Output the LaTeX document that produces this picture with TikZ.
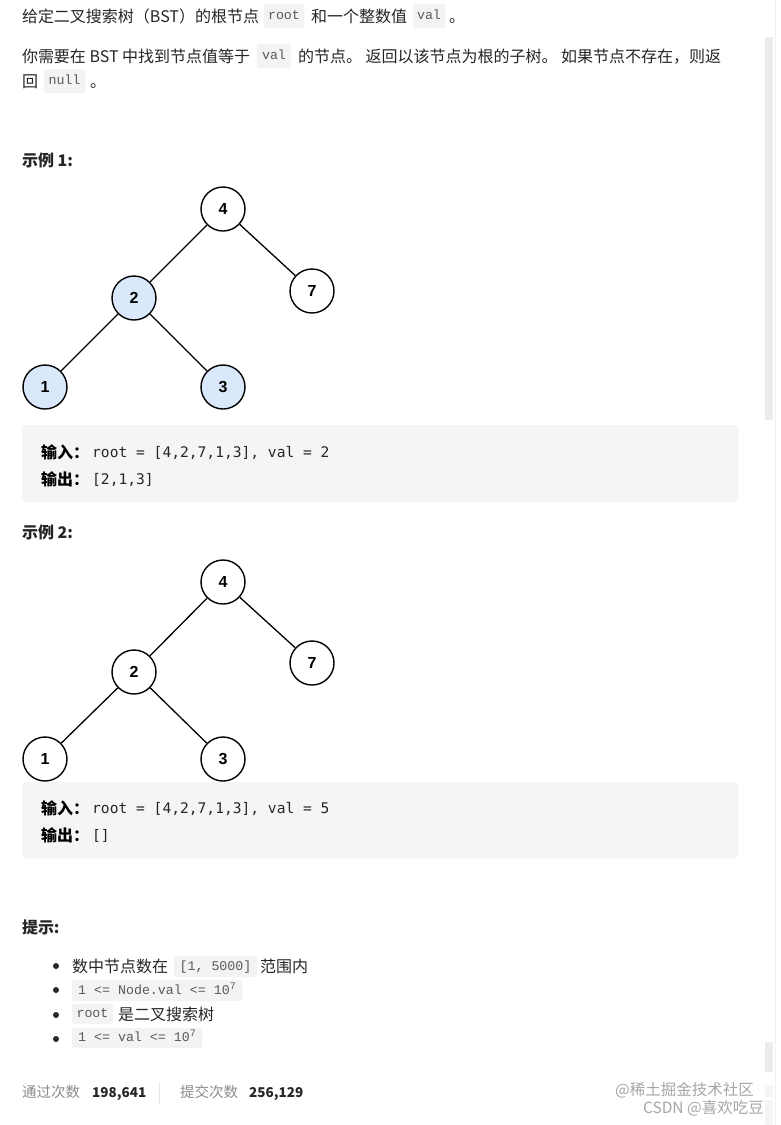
\documentclass[tikz,border=0pt]{standalone}
\usepackage{fontspec}
\setmainfont{Noto Sans CJK SC}
\newfontfamily\inl{Liberation Mono}
\newfontfamily\blk{DejaVu Sans Mono}
\newfontfamily\arl{Liberation Sans}
\definecolor{body}{HTML}{262626}
\definecolor{codebg}{HTML}{F2F3F5}
\definecolor{codetxt}{HTML}{595959}
\definecolor{blockbg}{HTML}{F4F5F6}
\definecolor{blue1}{HTML}{DAE8FC}
\definecolor{grey1}{HTML}{8C8C8C}
\definecolor{wm}{HTML}{A6A6A6}
\definecolor{bar}{HTML}{ECECEC}
\tikzset{
  txt/.style={anchor=base west, inner sep=0, outer sep=0, text=body, font=\fontsize{16}{16}\selectfont},
  head/.style={txt, font=\fontsize{16}{16}\selectfont\bfseries},
  icode/.style={fill=codebg, rounded corners=2pt, inner sep=0, text=codetxt,
    font=\inl\fontsize{13.3}{13.3}\selectfont, text height=9.5pt, text depth=2.5pt},
  block/.style={fill=blockbg, rounded corners=3pt, inner sep=0},
  blab/.style={anchor=base west, inner sep=0, text=black, font=\fontsize{16}{16}\selectfont\bfseries},
  bcode/.style={anchor=base west, inner sep=0, text=body, font=\blk\fontsize{14.6}{14.6}\selectfont},
  tn/.style={circle, draw=black, line width=1.4pt, minimum size=44pt, inner sep=0, fill=white,
    font=\arl\bfseries\fontsize{16}{16}\selectfont},
  hl/.style={fill=blue1},
  edge/.style={draw=black, line width=1.3pt},
  bul/.style={circle, fill=body, inner sep=0, minimum size=6pt},
  foot/.style={anchor=base west, inner sep=0, text=grey1, font=\fontsize{14.5}{14.5}\selectfont},
  num/.style={anchor=base west, inner sep=0, text=body, font=\fontsize{13.5}{13.5}\selectfont\bfseries},
  wmark/.style={anchor=base east, inner sep=0, text=wm, font=\fontsize{15.5}{15.5}\selectfont},
}
\begin{document}
\begin{tikzpicture}[x=1pt,y=-1pt]
\useasboundingbox[fill=white] (0,0) rectangle (780,1125);
% scrollbar
\draw[color=black!6, line width=0.8pt] (775.5,0) -- (775.5,1125);
\fill[bar] (765,37) rectangle (773,420);
\fill[bar] (765,1042) rectangle (773,1072);
\fill[black!4] (765,1085) rectangle (773,1097);
\fill[black!4] (765,1100) rectangle (773,1125);

% line 1
\node[txt] (l1a) at (22,22) {给定二叉搜索树（BST）的根节点};
\node[icode, minimum width=40pt, minimum height=24pt] (l1c1) at (284,16) {root};
\node[txt] (l1b) at (311,22) {和一个整数值};
\node[icode, minimum width=32pt, minimum height=24pt] (l1c2) at (429,16) {val};
\node[txt] (l1d) at (449,22) {。};
% line 2
\node[txt] (l2a) at (22,62) {你需要在 BST 中找到节点值等于};
\node[icode, minimum width=34pt, minimum height=24pt] (l2c) at (274,56) {val};
\node[txt] (l2b) at (298,62) {的节点。 返回以该节点为根的子树。 如果节点不存在，则返};
% line 3
\node[txt] (l3a) at (22,87) {回};
\node[icode, minimum width=41pt, minimum height=24pt] (l3c) at (64.5,81) {null};
\node[txt] (l3b) at (90,87) {。};

% example 1
\node[head] (h1) at (22,166) {示例 1:};
\node[tn] (a4) at (223,209) {4};
\node[tn] (a7) at (312,291) {7};
\node[tn, hl] (a2) at (134,298) {2};
\node[tn, hl] (a1) at (45,387) {1};
\node[tn, hl] (a3) at (223,387) {3};
\draw[edge] (a4) -- (a2);
\draw[edge] (a4) -- (a7);
\draw[edge] (a2) -- (a1);
\draw[edge] (a2) -- (a3);

\node[block, minimum width=716pt, minimum height=77pt] (b1) at (380,463.5) {};
\node[blab] (b1i) at (41,458) {输入：};
\node[bcode] (b1ic) at (92,457) {root = [4,2,7,1,3], val = 2};
\node[blab] (b1o) at (41,485) {输出：};
\node[bcode] (b1oc) at (92,484) {[2,1,3]};

% example 2
\node[head] (h2) at (22,538) {示例 2:};
\node[tn] (c4) at (223,582) {4};
\node[tn] (c7) at (312,663) {7};
\node[tn] (c2) at (134,672) {2};
\node[tn] (c1) at (45,759) {1};
\node[tn] (c3) at (223,759) {3};
\draw[edge] (c4) -- (c2);
\draw[edge] (c4) -- (c7);
\draw[edge] (c2) -- (c1);
\draw[edge] (c2) -- (c3);

\node[block, minimum width=716pt, minimum height=76pt] (b2) at (380,820) {};
\node[blab] (b2i) at (41,814) {输入：};
\node[bcode] (b2ic) at (92,813) {root = [4,2,7,1,3], val = 5};
\node[blab] (b2o) at (41,841) {输出：};
\node[bcode] (b2oc) at (92,840) {[]};

% tips
\node[head] (h3) at (22,933) {提示:};
\node[bul] (u1) at (56,966) {};
\node[bul] (u2) at (56,990) {};
\node[bul] (u3) at (56,1015) {};
\node[bul] (u4) at (56,1039) {};
\node[txt] (t1a) at (72,972) {数中节点数在};
\node[icode, minimum width=83pt, minimum height=21pt] (t1c) at (215.5,966.5) {[1, 5000]};
\node[txt] (t1b) at (260,972) {范围内};
\node[icode, minimum width=170pt, minimum height=21pt] (t2c) at (157,990.5) {1 <= Node.val <= 10\raisebox{5pt}{\fontsize{10}{10}\selectfont 7}};
\node[icode, minimum width=41pt, minimum height=20pt] (t3c) at (92.5,1014) {root};
\node[txt] (t3b) at (118,1020) {是二叉搜索树};
\node[icode, minimum width=130pt, minimum height=20pt] (t4c) at (137,1038) {1 <= val <= 10\raisebox{5pt}{\fontsize{10}{10}\selectfont 7}};

% footer
\node[foot] (f1) at (22,1097) {通过次数};
\node[num] (f2) at (92,1097) {198,641};
\draw[color=black!10, line width=0.8pt] (159,1082) -- (159,1103);
\node[foot] (f3) at (180,1097) {提交次数};
\node[num] (f4) at (249,1097) {256,129};
\node[wmark] (w1) at (754,1095) {@稀土掘金技术社区};
\node[wmark] (w2) at (764,1113) {CSDN @喜欢吃豆};
\end{tikzpicture}
\end{document}
